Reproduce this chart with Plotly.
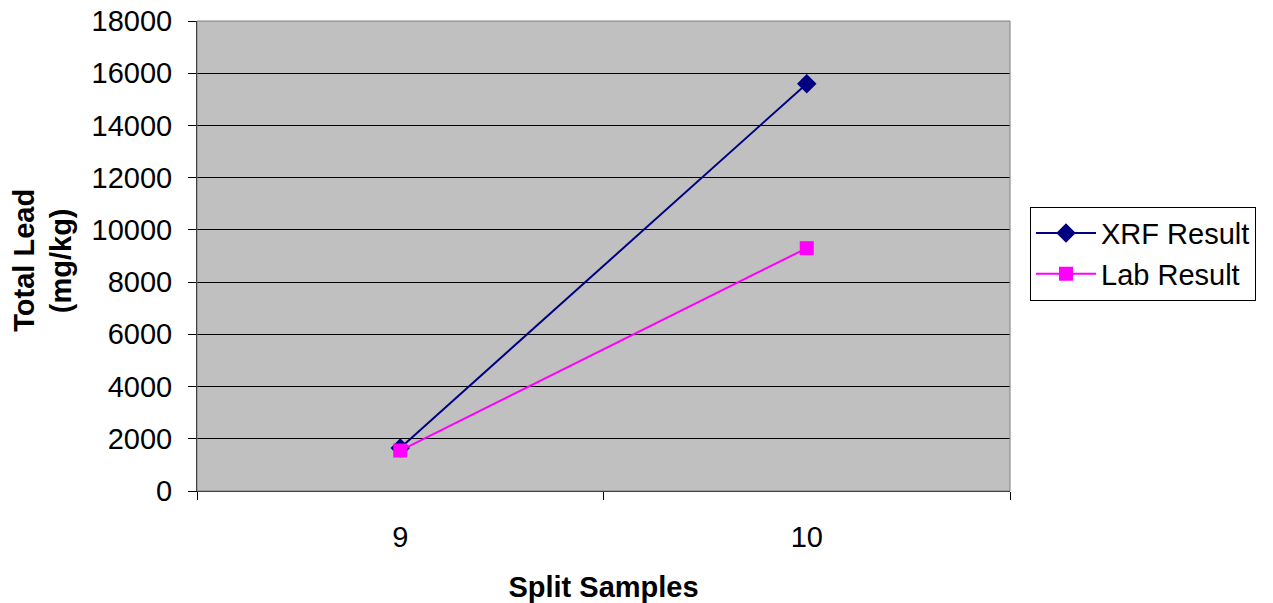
import plotly.graph_objects as go

categories = ["9", "10"]
xrf_result = [1650, 15600]
lab_result = [1550, 9300]
y_ticks = [0, 2000, 4000, 6000, 8000, 10000, 12000, 14000, 16000, 18000]

FONT = "Liberation Sans, Arial, sans-serif"
FS = 29

fig = go.Figure()
fig.add_trace(go.Scatter(
    x=categories, y=xrf_result, name="XRF Result", mode="lines+markers",
    line=dict(color="#000080", width=2),
    marker=dict(symbol="diamond", size=15, color="#000080"),
))
fig.add_trace(go.Scatter(
    x=categories, y=lab_result, name="Lab Result", mode="lines+markers",
    line=dict(color="#FF00FF", width=2),
    marker=dict(symbol="square", size=14, color="#FF00FF"),
))

fig.update_layout(
    width=1265, height=595,
    margin=dict(l=189, r=263, t=13, b=112, autoexpand=False),
    paper_bgcolor="white",
    plot_bgcolor="#C0C0C0",
    font=dict(family=FONT, size=FS, color="black"),
    showlegend=True,
    legend=dict(
        x=1.0246, xanchor="left", y=0.505, yanchor="middle",
        bordercolor="black", borderwidth=1, bgcolor="white",
        font=dict(family=FONT, size=FS, color="black"),
        tracegroupgap=0, itemwidth=60,
    ),
    xaxis=dict(
        type="category", range=[-0.5, 1.5], automargin=False,
        tickson="boundaries", ticks="outside", ticklen=8, tickcolor="black",
        showgrid=False, showline=True, linecolor="black", linewidth=1,
        tickfont=dict(family=FONT, size=FS),
        ticklabelstandoff=20,
        title=dict(text="<b>Split Samples</b>", font=dict(family=FONT, size=FS), standoff=31),
        zeroline=False,
    ),
    yaxis=dict(
        range=[0, 18000], tickvals=y_ticks, ticktext=[str(v) for v in y_ticks],
        automargin=False, ticklabeloverflow="allow",
        ticks="outside", ticklen=8, tickcolor="black",
        showgrid=True, gridcolor="black", gridwidth=1,
        showline=True, linecolor="black", linewidth=1,
        tickfont=dict(family=FONT, size=FS),
        ticklabelstandoff=10,
        zeroline=False,
    ),
    annotations=[
        dict(
            text="<b>Total Lead</b>", textangle=-90,
            xref="paper", yref="paper", x=-0.2122, y=0.491,
            xanchor="center", yanchor="middle", showarrow=False,
            font=dict(family=FONT, size=FS, color="black"),
        ),
        dict(
            text="<b>(mg/kg)</b>", textangle=-90,
            xref="paper", yref="paper", x=-0.1673, y=0.491,
            xanchor="center", yanchor="middle", showarrow=False,
            font=dict(family=FONT, size=FS, color="black"),
        ),
    ],
    shapes=[dict(
        type="rect", xref="paper", yref="paper", x0=0, x1=1, y0=0, y1=1,
        line=dict(color="#808080", width=1), fillcolor="rgba(0,0,0,0)", layer="above",
    )],
)

fig.write_html("out.html")
